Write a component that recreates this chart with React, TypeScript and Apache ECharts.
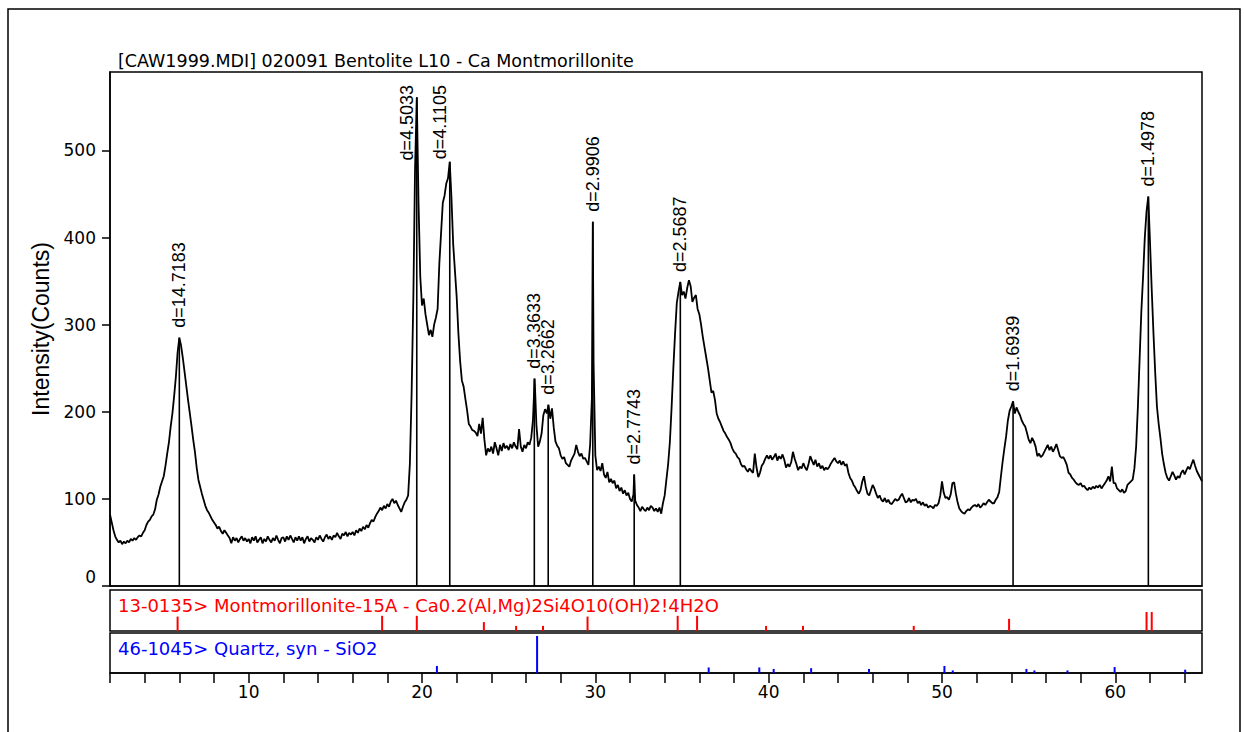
import React, { useEffect, useRef } from 'react';
import * as echarts from 'echarts';

// ---------- texts ----------
const TITLE = '[CAW1999.MDI] 020091 Bentolite L10 - Ca Montmorillonite';
const Y_NAME = 'Intensity(Counts)';
const MONT_NAME = '13-0135> Montmorillonite-15A - Ca0.2(Al,Mg)2Si4O10(OH)2!4H2O';
const QUARTZ_NAME = '46-1045> Quartz, syn - SiO2';

// ---------- axes ----------
const X_MIN = 2;
const X_MAX = 65;
const Y_MAX = 590;
const yTickValues = [0, 100, 200, 300, 400, 500];
const xTickValues = [2, 4, 6, 8, 10, 12, 14, 16, 18, 20, 22, 24, 26, 28, 30, 32, 34, 36, 38, 40, 42, 44, 46, 48, 50, 52, 54, 56, 58, 60, 62, 64];
const xLabelValues = [10, 20, 30, 40, 50, 60];

// ---------- measured scan (2-Theta from 2.0 by 0.1 deg) ----------
const SCAN_START = 2.0;
const SCAN_STEP = 0.1;
const scanCounts: number[] = [
  82, 73, 64, 57, 53, 50, 52, 48, 51, 49, // 2
  52, 50, 54, 52, 55, 53, 56, 58, 57, 61, // 3
  64, 70, 74, 76, 80, 82, 88, 99, 105, 114, // 4
  120, 126, 138, 152, 165, 183, 198, 218, 240, 268, // 5
  285, 276, 262, 246, 230, 214, 199, 184, 168, 154, // 6
  136, 122, 114, 106, 99, 92, 87, 84, 80, 76, // 7
  73, 70, 66, 68, 63, 60, 64, 61, 58, 55, // 8
  49, 56, 52, 55, 50, 54, 57, 52, 55, 51, // 9
  54, 49, 56, 52, 57, 50, 53, 56, 49, 54, // 10
  51, 57, 53, 50, 55, 52, 58, 53, 49, 55, // 11
  56, 51, 57, 53, 58, 54, 50, 56, 52, 57, // 12
  52, 56, 49, 54, 57, 51, 55, 53, 50, 56, // 13
  53, 58, 54, 51, 56, 59, 54, 57, 53, 58, // 14
  56, 61, 57, 54, 60, 58, 62, 57, 61, 59, // 15
  62, 58, 64, 61, 66, 63, 68, 65, 70, 67, // 16
  72, 76, 74, 79, 83, 86, 90, 87, 92, 89, // 17
  94, 91, 97, 100, 95, 98, 93, 89, 85, 91, // 18
  96, 99, 104, 140, 220, 330, 480, 561, 440, 355, // 19
  322, 330, 312, 300, 288, 294, 286, 300, 308, 318, // 20
  370, 405, 440, 448, 462, 468, 487, 445, 392, 362, // 21
  332, 290, 258, 236, 229, 215, 202, 186, 183, 179, // 22
  178, 176, 172, 186, 175, 193, 168, 150, 158, 154, // 23
  160, 152, 165, 158, 150, 162, 155, 164, 158, 161, // 24
  156, 163, 158, 165, 160, 157, 180, 160, 154, 162, // 25
  158, 165, 162, 170, 190, 238, 185, 160, 166, 175, // 26
  196, 203, 198, 208, 192, 204, 182, 166, 161, 158, // 27
  150, 146, 148, 141, 139, 137, 144, 148, 152, 162, // 28
  154, 149, 152, 146, 147, 143, 139, 162, 215, 255, // 29
  150, 133, 137, 132, 141, 128, 124, 131, 119, 123, // 30
  118, 121, 112, 116, 109, 113, 106, 110, 104, 107, // 31
  100, 97, 105, 98, 93, 90, 86, 91, 88, 86, // 32
  90, 87, 92, 90, 86, 89, 85, 90, 83, 95, // 33
  104, 122, 140, 165, 205, 250, 290, 325, 338, 349, // 34
  334, 338, 330, 342, 351, 344, 326, 331, 334, 318, // 35
  312, 300, 286, 274, 262, 250, 236, 222, 224, 214, // 36
  198, 192, 188, 183, 178, 175, 171, 168, 164, 158, // 37
  154, 152, 148, 146, 140, 137, 138, 134, 131, 135, // 38
  132, 130, 152, 136, 125, 130, 138, 141, 146, 150, // 39
  146, 150, 145, 148, 152, 144, 149, 146, 151, 145, // 40
  136, 140, 137, 142, 154, 146, 140, 133, 137, 135, // 41
  141, 136, 133, 140, 149, 144, 139, 145, 137, 141, // 42
  135, 138, 133, 136, 134, 137, 141, 144, 147, 143, // 43
  141, 144, 139, 143, 138, 140, 130, 124, 121, 116, // 44
  113, 109, 106, 110, 120, 126, 114, 106, 104, 110, // 45
  116, 112, 106, 101, 104, 99, 97, 101, 96, 99, // 46
  95, 94, 97, 100, 98, 99, 103, 106, 101, 96, // 47
  97, 101, 96, 99, 98, 100, 95, 97, 93, 96, // 48
  92, 94, 90, 92, 91, 89, 93, 92, 95, 104, // 49
  120, 107, 101, 102, 99, 105, 118, 119, 106, 96, // 50
  89, 86, 84, 83, 86, 88, 87, 90, 92, 93, // 51
  91, 94, 90, 92, 95, 93, 96, 99, 97, 95, // 52
  95, 99, 102, 108, 126, 143, 158, 172, 190, 201, // 53
  206, 212, 198, 205, 200, 196, 190, 186, 183, 176, // 54
  168, 164, 170, 166, 160, 149, 152, 148, 150, 154, // 55
  158, 162, 156, 160, 154, 158, 163, 156, 149, 147, // 56
  148, 144, 139, 130, 128, 124, 122, 119, 117, 116, // 57
  118, 114, 115, 112, 110, 113, 111, 114, 112, 115, // 58
  113, 116, 112, 115, 118, 121, 126, 120, 137, 118, // 59
  118, 112, 110, 108, 111, 107, 109, 116, 118, 120, // 60
  122, 135, 160, 205, 260, 315, 355, 400, 430, 447, // 61
  395, 340, 290, 245, 206, 186, 170, 152, 140, 130, // 62
  124, 121, 126, 131, 127, 122, 126, 124, 130, 133, // 63
  128, 133, 137, 134, 140, 145, 138, 132, 128, 124, // 64
  120, // 65
];
// apex readings of the narrowest reflections (between scan steps)
const apexTwoTheta = [29.854, 32.242];
const apexCounts = [418, 128];

// ---------- peak markers ----------
const peakTwoTheta = [6.0, 19.698, 21.602, 26.48, 27.281, 29.854, 32.242, 34.903, 54.1, 61.905];
const peakCounts = [285, 561, 487, 238, 208, 418, 128, 349, 212, 447];
const peakLabels = ['d=14.7183', 'd=4.5033', 'd=4.1105', 'd=3.3633', 'd=3.2662', 'd=2.9906', 'd=2.7743', 'd=2.5687', 'd=1.6939', 'd=1.4978'];

// ---------- reference patterns ----------
const montTwoTheta = [5.9, 17.7, 19.7, 23.57, 25.43, 26.98, 29.55, 34.75, 35.87, 39.85, 41.98, 48.37, 53.87, 61.8, 62.1];
const montIntensity = [76, 80, 80, 47, 27, 27, 76, 80, 80, 27, 27, 27, 64, 100, 100];
const quartzTwoTheta = [20.86, 26.64, 36.54, 39.46, 40.29, 42.45, 45.79, 50.14, 50.62, 54.87, 55.33, 57.24, 59.96, 64.03];
const quartzIntensity = [19, 100, 15, 15, 11, 13, 11, 19, 7, 11, 7, 7, 16, 9];

const H_FONT = 'DejaVu Sans';
const R_FONT = 'Liberation Sans';
const PEAK_FONT_SIZE = 18;

function measure(text: string, font: string): number {
  const ctx = document.createElement('canvas').getContext('2d');
  if (!ctx) return text.length * 9;
  ctx.font = font;
  return ctx.measureText(text).width;
}

export default function App() {
  const ref = useRef<HTMLDivElement>(null);

  useEffect(() => {
    if (!ref.current) return;
    const chart = echarts.init(ref.current, undefined, { renderer: 'svg' });

    const curve: number[][] = scanCounts.map((c, i) => [+(SCAN_START + i * SCAN_STEP).toFixed(2), c]);
    apexTwoTheta.forEach((t, i) => curve.push([t, apexCounts[i]]));
    curve.sort((a, b) => a[0] - b[0]);

    const peakFont = `${PEAK_FONT_SIZE}px "${R_FONT}"`;

    const stickSeries = (name: string, xs: number[], vs: number[], idx: number, color: string) => ({
      name,
      type: 'custom',
      xAxisIndex: idx,
      yAxisIndex: idx,
      silent: true,
      data: xs.map((t, i) => [t, vs[i]]),
      renderItem: (_p: any, api: any) => {
        const x = api.value(0);
        const v = api.value(1);
        const a = api.coord([x, 0]);
        const b = api.coord([x, v]);
        return {
          type: 'line',
          shape: { x1: a[0], y1: a[1], x2: b[0], y2: b[1] },
          style: { stroke: color, lineWidth: 2 },
        };
      },
    });

    const axisBlack = { lineStyle: { color: '#000', width: 1.5 } };

    chart.setOption({
      animation: false,
      backgroundColor: '#fff',
      grid: [
        { left: 110, top: 72, width: 1092, height: 514, show: true, borderColor: '#000', borderWidth: 1.5 },
        { left: 110, top: 590, width: 1092, height: 41, show: true, borderColor: '#000', borderWidth: 1.5 },
        { left: 110, top: 633, width: 1092, height: 40, show: true, borderColor: '#000', borderWidth: 1.5 },
      ],
      xAxis: [
        { type: 'value', gridIndex: 0, min: X_MIN, max: X_MAX, axisLine: { show: true, ...axisBlack }, axisTick: { show: false }, axisLabel: { show: false }, splitLine: { show: false } },
        { type: 'value', gridIndex: 1, min: X_MIN, max: X_MAX, axisLine: { show: false }, axisTick: { show: false }, axisLabel: { show: false }, splitLine: { show: false } },
        {
          type: 'value', gridIndex: 2, min: X_MIN, max: X_MAX, interval: 2,
          axisLine: { show: true, ...axisBlack },
          axisTick: { show: true, length: 10, customValues: xTickValues, ...axisBlack },
          axisLabel: {
            customValues: xLabelValues,
            formatter: (v: number) => (xLabelValues.indexOf(v) >= 0 ? String(v) : ''),
            color: '#000', fontSize: 17, fontFamily: H_FONT, margin: 10,
          },
          splitLine: { show: false },
        },
      ],
      yAxis: [
        {
          type: 'value', gridIndex: 0, min: 0, max: Y_MAX, interval: 100,
          axisLine: { show: true, ...axisBlack },
          axisTick: { show: true, length: 8, customValues: yTickValues, ...axisBlack },
          axisLabel: {
            customValues: yTickValues,
            formatter: (v: number) => (v === 0 ? '{z|0}' : String(v)),
            rich: { z: { fontSize: 17, fontFamily: H_FONT, color: '#000', padding: [0, 0, 18, 0] } },
            color: '#000', fontSize: 17, fontFamily: H_FONT, margin: 14,
          },
          splitLine: { show: false },
          name: Y_NAME,
          nameLocation: 'middle',
          nameGap: 58,
          nameTextStyle: { color: '#000', fontSize: 23, fontFamily: R_FONT },
        },
        { type: 'value', gridIndex: 1, min: 0, max: 216, show: false },
        { type: 'value', gridIndex: 2, min: 0, max: 108, show: false },
      ],
      graphic: [
        { type: 'rect', silent: true, shape: { x: 8, y: 9, width: 1232, height: 800 }, style: { fill: 'none', stroke: '#000', lineWidth: 1.5 } },
        { type: 'text', silent: true, x: 118, y: 61, style: { text: TITLE, fill: '#000', fontSize: 17.5, fontFamily: H_FONT, verticalAlign: 'middle' } },
        { type: 'text', silent: true, x: 118, y: 605, z: 10, style: { text: MONT_NAME, fill: '#ff0000', fontSize: 18, fontFamily: H_FONT, verticalAlign: 'middle' } },
        { type: 'text', silent: true, x: 118, y: 648, z: 10, style: { text: QUARTZ_NAME, fill: '#0000ff', fontSize: 18, fontFamily: H_FONT, verticalAlign: 'middle' } },
      ],
      series: [
        {
          name: 'scan', type: 'line', xAxisIndex: 0, yAxisIndex: 0, data: curve,
          showSymbol: false, symbol: 'none', silent: true,
          lineStyle: { color: '#000', width: 1.8 },
        },
        {
          name: 'peaks', type: 'custom', xAxisIndex: 0, yAxisIndex: 0, silent: true,
          data: peakTwoTheta.map((t, i) => [t, peakCounts[i]]),
          renderItem: (params: any, api: any) => {
            const i = params.dataIndex;
            const x = api.value(0);
            const v = api.value(1);
            const top = api.coord([x, v]);
            const bot = api.coord([x, 0]);
            const label = peakLabels[i];
            const len = measure(label, peakFont);
            const plotTop = params.coordSys.y;
            let startY = top[1] - 10;
            let cx = top[0];
            if (startY - len < plotTop + 13) {
              startY = plotTop + 13 + len;
              cx = top[0] - PEAK_FONT_SIZE / 2 - 1;
            }
            return {
              type: 'group',
              children: [
                { type: 'line', shape: { x1: top[0], y1: top[1], x2: bot[0], y2: bot[1] }, style: { stroke: '#000', lineWidth: 1.6 } },
                {
                  type: 'text', x: cx, y: startY, rotation: Math.PI / 2,
                  style: { text: label, fill: '#000', fontSize: PEAK_FONT_SIZE, fontFamily: R_FONT, align: 'left', verticalAlign: 'middle' },
                },
              ],
            };
          },
        },
        stickSeries('Montmorillonite-15A', montTwoTheta, montIntensity, 1, '#ff0000'),
        stickSeries('Quartz', quartzTwoTheta, quartzIntensity, 2, '#0000ff'),
      ],
    });

    return () => chart.dispose();
  }, []);

  return <div ref={ref} style={{ position: 'fixed', left: 0, top: 0, width: 1244, height: 732, background: '#fff' }} />;
}
